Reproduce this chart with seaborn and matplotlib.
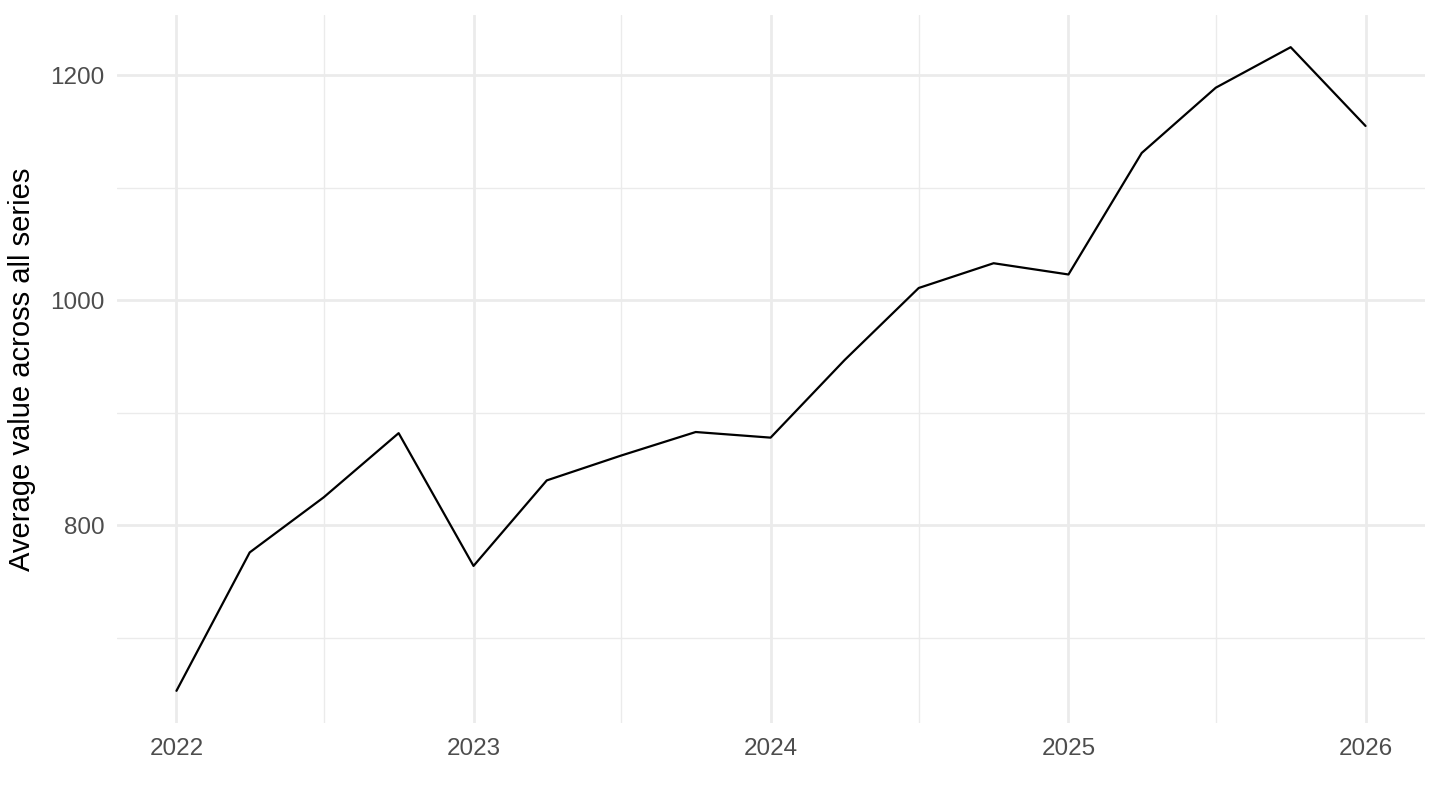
import numpy as np
import pandas as pd
import seaborn as sns
import matplotlib
matplotlib.use("Agg")
import matplotlib.pyplot as plt
import matplotlib.dates as mdates

# ---- data ----
quarters = ["2022-01-01", "2022-04-01", "2022-07-01", "2022-10-01",
            "2023-01-01", "2023-04-01", "2023-07-01", "2023-10-01",
            "2024-01-01", "2024-04-01", "2024-07-01", "2024-10-01",
            "2025-01-01", "2025-04-01", "2025-07-01", "2025-10-01",
            "2026-01-01"]
avg_values = [653, 776, 825, 882,
              764, 840, 862, 883,
              878, 947, 1011, 1033,
              1023, 1131, 1189, 1225,
              1155]
y_label = "Average value across all series"
y_ticks = [800, 1000, 1200]
y_minor = [700, 900, 1100]
x_years = [2022, 2023, 2024, 2025, 2026]

df = pd.DataFrame({"date": pd.to_datetime(quarters), "value": avg_values})

sns.set_theme(style="white")
plt.rcParams["font.family"] = ["Liberation Sans", "DejaVu Sans"]

fig = plt.figure(figsize=(14.4, 8.1), dpi=100)
ax = fig.add_axes([117 / 1440, 1 - 723 / 810, (1425 - 117) / 1440, (723 - 15) / 810])

grid_col = "#EBEBEB"
ax.set_axisbelow(True)

sns.lineplot(data=df, x="date", y="value", ax=ax, color="black", linewidth=1.6)

# limits with 5% expansion
dnum = mdates.date2num(df["date"])
xr = dnum.max() - dnum.min()
ax.set_xlim(dnum.min() - 0.05 * xr, dnum.max() + 0.05 * xr)
yv = np.array(avg_values, dtype=float)
yr = yv.max() - yv.min()
ax.set_ylim(yv.min() - 0.05 * yr, yv.max() + 0.05 * yr)

ax.set_yticks(y_ticks)
ax.set_yticks(y_minor, minor=True)
ax.set_xticks(mdates.date2num([pd.Timestamp(f"{y}-01-01") for y in x_years]))
ax.set_xticks(mdates.date2num([pd.Timestamp(f"{y}-07-01") for y in x_years[:-1]]), minor=True)
ax.set_xticklabels([str(y) for y in x_years])
ax.set_yticklabels([str(v) for v in y_ticks])

ax.grid(which="major", color=grid_col, linewidth=2.0)
ax.grid(which="minor", color=grid_col, linewidth=1.0)

for s in ax.spines.values():
    s.set_visible(False)

ax.tick_params(axis="both", which="both", length=0, labelsize=17.5, colors="#4D4D4D")
ax.tick_params(axis="x", pad=11)
ax.tick_params(axis="y", pad=9)
ax.set_xlabel("")
ax.set_ylabel(y_label, fontsize=21, color="black", labelpad=10)

fig.savefig("out.png", dpi=100, facecolor="white")
